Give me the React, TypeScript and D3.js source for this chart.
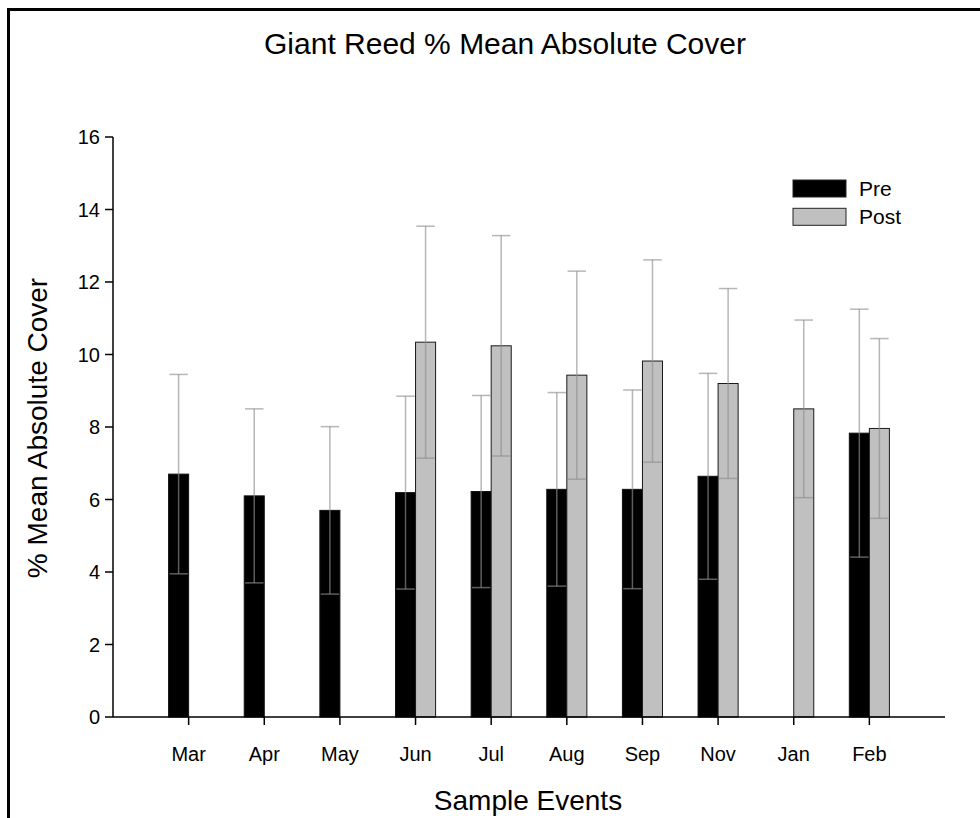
import React from "react";
import * as d3 from "d3";

// Sample events and mean absolute cover (%) with standard errors
const months = ["Mar", "Apr", "May", "Jun", "Jul", "Aug", "Sep", "Nov", "Jan", "Feb"];
const preMean: (number | null)[] = [6.7, 6.1, 5.7, 6.19, 6.22, 6.28, 6.28, 6.64, null, 7.83];
const preErr: (number | null)[] = [2.75, 2.4, 2.31, 2.66, 2.65, 2.67, 2.74, 2.84, null, 3.42];
const postMean: (number | null)[] = [null, null, null, 10.34, 10.24, 9.43, 9.82, 9.2, 8.5, 7.96];
const postErr: (number | null)[] = [null, null, null, 3.2, 3.04, 2.87, 2.79, 2.62, 2.45, 2.48];
const yTicks = [0, 2, 4, 6, 8, 10, 12, 14, 16];
const seriesNames = ["Pre", "Post"];
const seriesFill = ["#000000", "#c0c0c0"];

const W = 980;
const H = 818;
const left = 113;
const right = 945;
const top = 137;
const bottom = 717;
const font = "'Liberation Sans', Arial, Helvetica, sans-serif";

export default function App() {
  const x = d3.scalePoint<string>().domain(months).range([left, right]).padding(1);
  const y = d3.scaleLinear().domain([0, 16]).range([bottom, top]);
  const barW = x.step() * 0.265;
  const capW = barW * 0.92;

  const series = [
    { mean: preMean, err: preErr, offset: -barW, idx: 0 },
    { mean: postMean, err: postErr, offset: 0, idx: 1 },
  ];

  return (
    <svg
      width={W}
      height={H}
      style={{ position: "absolute", left: 0, top: 0, background: "#fff" }}
      fontFamily={font}
    >
      <rect x={0} y={0} width={W} height={H} fill="#fff" />
      {/* frame */}
      <path d={`M8.5,${H + 5}V9.5H${W + 5}`} fill="none" stroke="#000" strokeWidth={3} />

      <text x={505} y={54} textAnchor="middle" fontSize={30}>
        Giant Reed % Mean Absolute Cover
      </text>

      {/* bars */}
      {series.map((s) =>
        months.map((m, i) => {
          const v = s.mean[i];
          if (v == null) return null;
          const x0 = (x(m) as number) + s.offset;
          return (
            <rect
              key={`b${s.idx}-${m}`}
              x={x0}
              y={y(v)}
              width={barW}
              height={y(0) - y(v)}
              fill={seriesFill[s.idx]}
              stroke={s.idx === 0 ? "#111" : "#1a1a1a"}
              strokeWidth={1}
            />
          );
        })
      )}

      {/* error bars */}
      {series.map((s) =>
        months.map((m, i) => {
          const v = s.mean[i];
          const e = s.err[i];
          if (v == null || e == null) return null;
          const cx = (x(m) as number) + s.offset + barW / 2;
          const y1 = y(v + e);
          const y2 = y(v - e);
          return (
            <g key={`e${s.idx}-${m}`} stroke="#8f8f8f" strokeOpacity={0.65} strokeWidth={1.5}>
              <line x1={cx} x2={cx} y1={y1} y2={y2} />
              <line x1={cx - capW / 2} x2={cx + capW / 2} y1={y1} y2={y1} />
              <line x1={cx - capW / 2} x2={cx + capW / 2} y1={y2} y2={y2} />
            </g>
          );
        })
      )}

      {/* y axis */}
      <line x1={left} x2={left} y1={top} y2={bottom} stroke="#000" strokeWidth={1.5} />
      {yTicks.map((t) => (
        <g key={`yt${t}`}>
          <line x1={left - 8} x2={left} y1={y(t)} y2={y(t)} stroke="#000" strokeWidth={1.5} />
          <text x={left - 13} y={y(t)} dy="0.36em" textAnchor="end" fontSize={20}>
            {t}
          </text>
        </g>
      ))}

      {/* x axis */}
      <line x1={left} x2={right} y1={bottom} y2={bottom} stroke="#000" strokeWidth={1.5} />
      {months.map((m) => (
        <g key={`xt${m}`}>
          <line x1={x(m)} x2={x(m)} y1={bottom} y2={bottom + 8} stroke="#000" strokeWidth={1.5} />
          <text x={x(m)} y={761} textAnchor="middle" fontSize={20}>
            {m}
          </text>
        </g>
      ))}

      <text x={528} y={810} textAnchor="middle" fontSize={28}>
        Sample Events
      </text>
      <text transform={`translate(47,428) rotate(-90)`} textAnchor="middle" fontSize={28}>
        % Mean Absolute Cover
      </text>

      {/* legend */}
      {seriesNames.map((n, i) => (
        <g key={n} transform={`translate(793,${180 + i * 28.3})`}>
          <rect x={0} y={0} width={53} height={17} fill={seriesFill[i]} stroke="#222" strokeWidth={1} />
          <text x={66} y={15.7} fontSize={21}>
            {n}
          </text>
        </g>
      ))}
    </svg>
  );
}
